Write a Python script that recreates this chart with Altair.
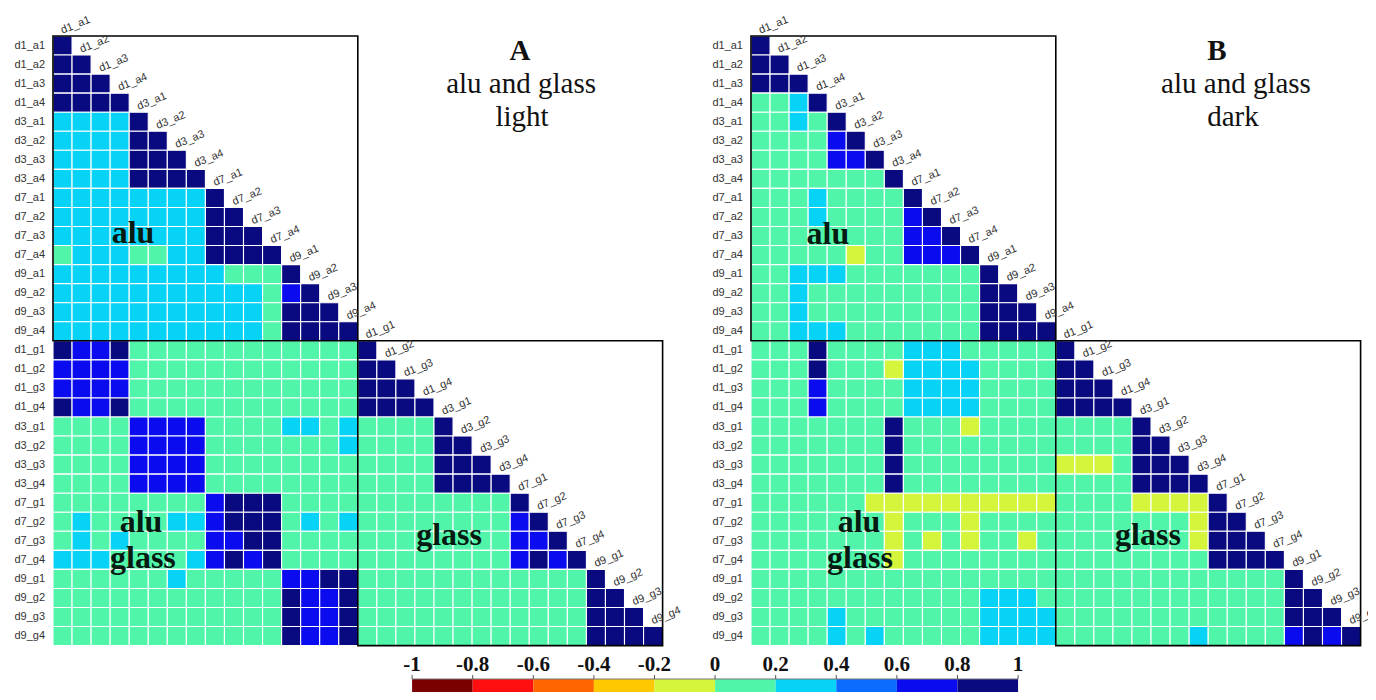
import altair as alt
import pandas as pd

# ---------------- data ----------------
alu_labels = ["d1_a1", "d1_a2", "d1_a3", "d1_a4", "d3_a1", "d3_a2", "d3_a3", "d3_a4",
              "d7_a1", "d7_a2", "d7_a3", "d7_a4", "d9_a1", "d9_a2", "d9_a3", "d9_a4"]
glass_labels = ["d1_g1", "d1_g2", "d1_g3", "d1_g4", "d3_g1", "d3_g2", "d3_g3", "d3_g4",
                "d7_g1", "d7_g2", "d7_g3", "d7_g4", "d9_g1", "d9_g2", "d9_g3", "d9_g4"]
labels = alu_labels + glass_labels

# correlation class of each cell (lower triangle, row by row)
# Y: -0.2..0  G: 0..0.2  C: 0.2..0.4  A: 0.4..0.6  B: 0.6..0.8  N: 0.8..1
code_value = {"Y": -0.1, "G": 0.1, "C": 0.3, "A": 0.5, "B": 0.7, "N": 0.9}

panel_A_rows = [
    "N",
    "NN",
    "NNN",
    "NNNN",
    "CCCC N",
    "CCCC NN",
    "CCCC NNN",
    "CCCC NNNN",
    "CCCCCCCC N",
    "CCCCCCCC NN",
    "CCCCCCCC NNN",
    "GCCCGGCC NNNN",
    "CCCCCCCCCGGG N",
    "CCCCCCCCCCCG BN",
    "CCCCCCCCCCCG NNN",
    "CCCCCCCCCCCG NNNN",
    "NBBNGGGGGGGGGGGG N",
    "BBBBGGGGGGGGGGGG NN",
    "BBBBGGGGGGGGGGGG NNN",
    "NBBNGGGGGGGGGGGG NNNN",
    "GGGGBBBBGGGGCCGC GGGG N",
    "GGGGBBBBGGGGGGGC GGGG NN",
    "GGGGBBBBGGGGGGGG GGGG NNN",
    "GGGGBBBBGGGGGGGG GGGG NNNN",
    "GGGGGGGGBNNNGGGG GGGGGGGG N",
    "GCGGGGCCBNNNGCGC GGGGGGGG BN",
    "GCGCGGGGBBNNGGGG GGGGGGGG BBN",
    "CCCGGGGCBNBNGGGG GGGGGGGG BNBN",
    "GGGGGGCGGGGGBBNN GGGGGGGGGGGG N",
    "GGGGGGGGGGGGNBBN GGGGGGGGGGGG NN",
    "GGGGGGGGGGGGNBBN GGGGGGGGGGGG NNN",
    "GGGGGGGGGGGGNBBN GGGGGGGGGGGG NNNN",
]

panel_B_rows = [
    "N",
    "NN",
    "NNN",
    "GGCN",
    "GGCGN",
    "GGGGBN",
    "GGGGBBN",
    "GGGGGGGN",
    "GGGCGGGGN",
    "GGGCGGGGBN",
    "GGGGGGGGBBN",
    "GGGGGYGGBBBN",
    "GGCCCGGGGGGGN",
    "GGCGGGGGGGGGNN",
    "GGCGGGGGGGGGNNN",
    "GGCCCGGGGGGGNNNN",
    "GGGNGGGGCCCGGGGG N",
    "GGGNGGGYCCCCGGGG NN",
    "GGGBGGGGCCCCGGGG NNN",
    "GGGBGGGGCCCCGGGG NNNN",
    "GGGGGGGNGGGYGGGG GGGG N",
    "GGGGGGGNGGGGGGGG GGGG NN",
    "GGGGGGGNGGGGGGGG YYYG NNN",
    "GGGGGGGNGGGGGGGG GGGG NNNN",
    "GGGGGGYYYYYYYYYY GGGGYYYY N",
    "GGGGGGGYGGGYGGGG GGGGGGGY NN",
    "GGGGGGGYGYGYGGYG GGGGGGGY NNN",
    "GGGGGGGYGGGGGGGG GGGGGGGG NNNN",
    "GGGGGGGGGGGGGGGG GGGGGGGGGGGG N",
    "GGGGGGGGGGGGCCCG GGGGGGGGGGGG NN",
    "GGGGCGGGGGGGCCCC GGGGGGGGGGGG NNN",
    "GGGGCGCGGGGGCCCC GGGGGGGCGGGG BNBN",
]

panel_titles = {"A": ["alu and glass", "light"], "B": ["alu and glass", "dark"]}
block_names = ["alu", "alu", "glass", "glass"]

cb_ticks = [-1, -0.8, -0.6, -0.4, -0.2, 0, 0.2, 0.4, 0.6, 0.8, 1]
cb_tick_labels = ["-1", "-0.8", "-0.6", "-0.4", "-0.2", "0", "0.2", "0.4", "0.6", "0.8", "1"]
bin_colors = ["#7a0000", "#ff0f0f", "#ff6500", "#ffc800", "#d5f43c",
              "#50f5aa", "#06d3f6", "#0a6cff", "#0b0bf0", "#0a0a80"]

# ---------------- layout (cell units) ----------------
CELL = 19.05
W, H = 1360, 684
x_lo = -45 / CELL
y_lo = -28 / CELL
xs = alt.Scale(domain=[x_lo, x_lo + W / CELL], nice=False, zero=False)
ys = alt.Scale(domain=[y_lo, y_lo + H / CELL], nice=False, zero=False, reverse=True)
offsets = {"A": 0.0, "B": 36.64}
n = len(labels)

cells, boxes, ylabs, diag = [], [], [], []
for pname, rows in (("A", panel_A_rows), ("B", panel_B_rows)):
    off = offsets[pname]
    for r, row in enumerate(rows):
        codes = row.replace(" ", "")
        for c, code in enumerate(codes):
            cells.append({"x": off + c, "x2": off + c + 1, "y": r, "y2": r + 1,
                          "v": code_value[code], "row": labels[r], "col": labels[c]})
        ylabs.append({"x": off - 0.42, "y": r + 0.5, "t": labels[r]})
        diag.append({"x": off + r + 0.5, "y": r - 0.12, "t": labels[r]})
    half = len(alu_labels)
    boxes.append({"x": off, "x2": off + half, "y": 0, "y2": half})
    boxes.append({"x": off + half, "x2": off + n, "y": half, "y2": n})

cells = pd.DataFrame(cells)
boxes = pd.DataFrame(boxes)
ylabs = pd.DataFrame(ylabs)
diag = pd.DataFrame(diag)

head_bold, head_norm = [], []
title_pos = {"A": [(24.51, 1.26), (24.57, 2.99), (24.62, 4.72)],
             "B": [(24.46, 1.26), (25.46, 2.99), (25.30, 4.72)]}
for pname in ("A", "B"):
    off = offsets[pname]
    p = title_pos[pname]
    head_bold.append({"x": off + p[0][0], "y": p[0][1], "t": pname})
    for (px, py), t in zip(p[1:], panel_titles[pname]):
        head_norm.append({"x": off + px, "y": py, "t": t})
head_bold = pd.DataFrame(head_bold)
head_norm = pd.DataFrame(head_norm)

block_pos = {"A": [(4.2, 10.87), (4.62, 26.04), (4.72, 27.93), (20.79, 26.72)],
             "B": [(4.04, 10.92), (5.67, 26.04), (5.72, 27.93), (20.84, 26.72)]}
big = []
for pname in ("A", "B"):
    for (px, py), t in zip(block_pos[pname], block_names):
        big.append({"x": offsets[pname] + px, "y": py, "t": t})
big = pd.DataFrame(big)

cb_left, cb_right = 18.85, 50.66
def cbx(v):
    return cb_left + (v + 1) / 2 * (cb_right - cb_left)

cb_top = (679 - 36) / CELL
cb_bottom = y_lo + H / CELL
cb_bins = pd.DataFrame([{"x": cbx(cb_ticks[i]), "x2": cbx(cb_ticks[i + 1]),
                         "y": cb_top, "y2": cb_bottom,
                         "v": (cb_ticks[i] + cb_ticks[i + 1]) / 2}
                        for i in range(len(cb_ticks) - 1)])
cb_tk = pd.DataFrame([{"x": cbx(v), "y": cb_top - 4 / CELL, "y2": cb_top, "t": t}
                      for v, t in zip(cb_ticks, cb_tick_labels)])
cb_lab = pd.DataFrame([{"x": cbx(v), "y": (671 - 36) / CELL, "t": t}
                       for v, t in zip(cb_ticks, cb_tick_labels)])
cb_line = pd.DataFrame([{"x": cb_left, "x2": cb_right, "y": cb_top}])

color_scale = alt.Scale(type="threshold", domain=cb_ticks[1:-1], range=bin_colors)

def X(f="x"):
    return alt.X(f"{f}:Q", scale=xs, axis=None)

def Y(f="y"):
    return alt.Y(f"{f}:Q", scale=ys, axis=None)

cell_layer = alt.Chart(cells).mark_rect(stroke="white", strokeWidth=1.1).encode(
    x=X(), x2="x2", y=Y(), y2="y2",
    color=alt.Color("v:Q", scale=color_scale, legend=None),
)
box_layer = alt.Chart(boxes).mark_rect(filled=False, stroke="black", strokeWidth=1.6).encode(
    x=X(), x2="x2", y=Y(), y2="y2")
ylab_layer = alt.Chart(ylabs).mark_text(
    align="right", baseline="middle", font="Liberation Sans", fontSize=11, color="#333333"
).encode(x=X(), y=Y(), text="t:N")
diag_layer = alt.Chart(diag).mark_text(
    align="left", baseline="alphabetic", font="Liberation Sans", fontSize=11,
    color="#333333", angle=338
).encode(x=X(), y=Y(), text="t:N")
hb_layer = alt.Chart(head_bold).mark_text(
    align="center", baseline="alphabetic", font="Liberation Serif", fontSize=29,
    fontWeight="bold", color="#111111"
).encode(x=X(), y=Y(), text="t:N")
hn_layer = alt.Chart(head_norm).mark_text(
    align="center", baseline="alphabetic", font="Liberation Serif", fontSize=29,
    color="#111111"
).encode(x=X(), y=Y(), text="t:N")
big_layer = alt.Chart(big).mark_text(
    align="center", baseline="alphabetic", font="Liberation Serif", fontSize=32,
    fontWeight="bold", color="#051a10"
).encode(x=X(), y=Y(), text="t:N")
cb_layer = alt.Chart(cb_bins).mark_rect().encode(
    x=X(), x2="x2", y=Y(), y2="y2",
    color=alt.Color("v:Q", scale=color_scale, legend=None))
cb_tick_layer = alt.Chart(cb_tk).mark_rule(color="#555555", strokeWidth=1).encode(
    x=X(), y=Y(), y2="y2")
cb_line_layer = alt.Chart(cb_line).mark_rule(color="#777777", strokeWidth=1).encode(
    x=X(), x2="x2", y=Y())
cb_lab_layer = alt.Chart(cb_lab).mark_text(
    align="center", baseline="alphabetic", font="Liberation Serif", fontSize=21,
    fontWeight="bold", color="#111111"
).encode(x=X(), y=Y(), text="t:N")

chart = alt.layer(
    cell_layer, box_layer, ylab_layer, diag_layer, hb_layer, hn_layer, big_layer,
    cb_layer, cb_line_layer, cb_tick_layer, cb_lab_layer
).properties(
    width=W, height=H, padding=0, background="white",
    autosize=alt.AutoSizeParams(type="none")
).configure_view(stroke=None)

chart.save("out.html", embed_options={"renderer": "svg", "actions": False})
